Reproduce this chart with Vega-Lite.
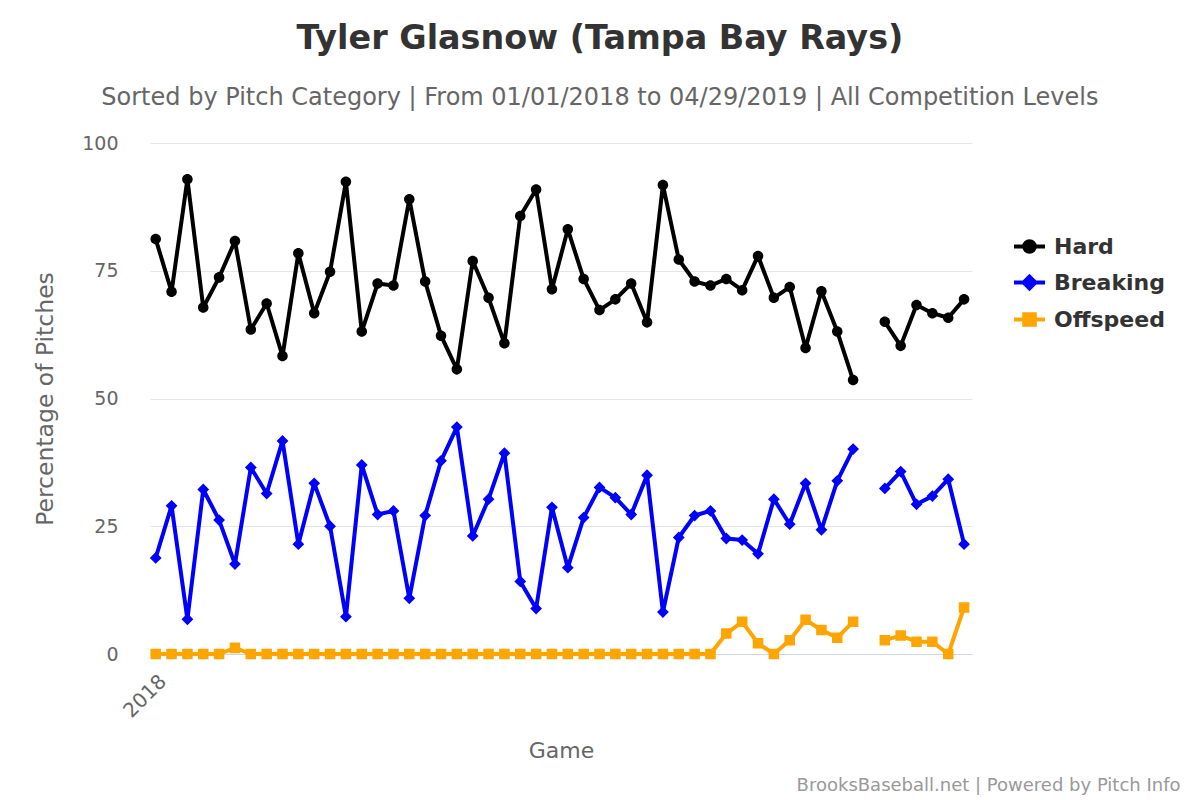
{
  "$schema": "https://vega.github.io/schema/vega-lite/v6.json",
  "width": 822,
  "height": 511,
  "autosize": "none",
  "padding": {"left": 150, "top": 143, "right": 228, "bottom": 146},
  "background": "white",
  "config": {"font": "DejaVu Sans", "view": {"stroke": null}},
  "title": {
    "text": "Tyler Glasnow (Tampa Bay Rays)",
    "subtitle": "Sorted by Pitch Category | From 01/01/2018 to 04/29/2019 | All Competition Levels",
    "fontSize": 33.4,
    "fontWeight": "bold",
    "color": "#333333",
    "subtitleFontSize": 24,
    "subtitleColor": "#666666",
    "subtitlePadding": 30,
    "offset": 23,
    "dx": -7,
    "anchor": "middle",
    "frame": "bounds"
  },
  "data": {
    "values": [
      {"g": 0, "type": "Hard", "pct": 81.2}, {"g": 1, "type": "Hard", "pct": 70.9}, {"g": 2, "type": "Hard", "pct": 92.9},
      {"g": 3, "type": "Hard", "pct": 67.8}, {"g": 4, "type": "Hard", "pct": 73.7}, {"g": 5, "type": "Hard", "pct": 80.8},
      {"g": 6, "type": "Hard", "pct": 63.5}, {"g": 7, "type": "Hard", "pct": 68.6}, {"g": 8, "type": "Hard", "pct": 58.3},
      {"g": 9, "type": "Hard", "pct": 78.4}, {"g": 10, "type": "Hard", "pct": 66.7}, {"g": 11, "type": "Hard", "pct": 74.8},
      {"g": 12, "type": "Hard", "pct": 92.4}, {"g": 13, "type": "Hard", "pct": 63.1}, {"g": 14, "type": "Hard", "pct": 72.5},
      {"g": 15, "type": "Hard", "pct": 72.1}, {"g": 16, "type": "Hard", "pct": 89.0}, {"g": 17, "type": "Hard", "pct": 72.9},
      {"g": 18, "type": "Hard", "pct": 62.3}, {"g": 19, "type": "Hard", "pct": 55.7}, {"g": 20, "type": "Hard", "pct": 76.9},
      {"g": 21, "type": "Hard", "pct": 69.7}, {"g": 22, "type": "Hard", "pct": 60.8}, {"g": 23, "type": "Hard", "pct": 85.7},
      {"g": 24, "type": "Hard", "pct": 90.9}, {"g": 25, "type": "Hard", "pct": 71.4}, {"g": 26, "type": "Hard", "pct": 83.1},
      {"g": 27, "type": "Hard", "pct": 73.4}, {"g": 28, "type": "Hard", "pct": 67.3}, {"g": 29, "type": "Hard", "pct": 69.4},
      {"g": 30, "type": "Hard", "pct": 72.5}, {"g": 31, "type": "Hard", "pct": 64.9}, {"g": 32, "type": "Hard", "pct": 91.8},
      {"g": 33, "type": "Hard", "pct": 77.2}, {"g": 34, "type": "Hard", "pct": 72.9}, {"g": 35, "type": "Hard", "pct": 72.1},
      {"g": 36, "type": "Hard", "pct": 73.4}, {"g": 37, "type": "Hard", "pct": 71.2}, {"g": 38, "type": "Hard", "pct": 77.9},
      {"g": 39, "type": "Hard", "pct": 69.7}, {"g": 40, "type": "Hard", "pct": 71.8}, {"g": 41, "type": "Hard", "pct": 59.9},
      {"g": 42, "type": "Hard", "pct": 71.0}, {"g": 43, "type": "Hard", "pct": 63.1}, {"g": 44, "type": "Hard", "pct": 53.6},
      {"g": 45, "type": "Hard", "pct": null}, {"g": 46, "type": "Hard", "pct": 65.0}, {"g": 47, "type": "Hard", "pct": 60.3},
      {"g": 48, "type": "Hard", "pct": 68.3}, {"g": 49, "type": "Hard", "pct": 66.7}, {"g": 50, "type": "Hard", "pct": 65.8},
      {"g": 51, "type": "Hard", "pct": 69.4},

      {"g": 0, "type": "Breaking", "pct": 18.8}, {"g": 1, "type": "Breaking", "pct": 29.0}, {"g": 2, "type": "Breaking", "pct": 6.8},
      {"g": 3, "type": "Breaking", "pct": 32.2}, {"g": 4, "type": "Breaking", "pct": 26.2}, {"g": 5, "type": "Breaking", "pct": 17.6},
      {"g": 6, "type": "Breaking", "pct": 36.5}, {"g": 7, "type": "Breaking", "pct": 31.4}, {"g": 8, "type": "Breaking", "pct": 41.7},
      {"g": 9, "type": "Breaking", "pct": 21.5}, {"g": 10, "type": "Breaking", "pct": 33.4}, {"g": 11, "type": "Breaking", "pct": 25.0},
      {"g": 12, "type": "Breaking", "pct": 7.3}, {"g": 13, "type": "Breaking", "pct": 37.0}, {"g": 14, "type": "Breaking", "pct": 27.3},
      {"g": 15, "type": "Breaking", "pct": 28.0}, {"g": 16, "type": "Breaking", "pct": 10.9}, {"g": 17, "type": "Breaking", "pct": 27.1},
      {"g": 18, "type": "Breaking", "pct": 37.8}, {"g": 19, "type": "Breaking", "pct": 44.4}, {"g": 20, "type": "Breaking", "pct": 23.1},
      {"g": 21, "type": "Breaking", "pct": 30.3}, {"g": 22, "type": "Breaking", "pct": 39.3}, {"g": 23, "type": "Breaking", "pct": 14.2},
      {"g": 24, "type": "Breaking", "pct": 8.9}, {"g": 25, "type": "Breaking", "pct": 28.7}, {"g": 26, "type": "Breaking", "pct": 16.9},
      {"g": 27, "type": "Breaking", "pct": 26.7}, {"g": 28, "type": "Breaking", "pct": 32.6}, {"g": 29, "type": "Breaking", "pct": 30.6},
      {"g": 30, "type": "Breaking", "pct": 27.3}, {"g": 31, "type": "Breaking", "pct": 35.0}, {"g": 32, "type": "Breaking", "pct": 8.2},
      {"g": 33, "type": "Breaking", "pct": 22.8}, {"g": 34, "type": "Breaking", "pct": 27.1}, {"g": 35, "type": "Breaking", "pct": 28.0},
      {"g": 36, "type": "Breaking", "pct": 22.6}, {"g": 37, "type": "Breaking", "pct": 22.3}, {"g": 38, "type": "Breaking", "pct": 19.6},
      {"g": 39, "type": "Breaking", "pct": 30.3}, {"g": 40, "type": "Breaking", "pct": 25.4}, {"g": 41, "type": "Breaking", "pct": 33.4},
      {"g": 42, "type": "Breaking", "pct": 24.3}, {"g": 43, "type": "Breaking", "pct": 33.9}, {"g": 44, "type": "Breaking", "pct": 40.1},
      {"g": 45, "type": "Breaking", "pct": null}, {"g": 46, "type": "Breaking", "pct": 32.4}, {"g": 47, "type": "Breaking", "pct": 35.7},
      {"g": 48, "type": "Breaking", "pct": 29.3}, {"g": 49, "type": "Breaking", "pct": 30.9}, {"g": 50, "type": "Breaking", "pct": 34.2},
      {"g": 51, "type": "Breaking", "pct": 21.5},

      {"g": 0, "type": "Offspeed", "pct": 0}, {"g": 1, "type": "Offspeed", "pct": 0}, {"g": 2, "type": "Offspeed", "pct": 0},
      {"g": 3, "type": "Offspeed", "pct": 0}, {"g": 4, "type": "Offspeed", "pct": 0}, {"g": 5, "type": "Offspeed", "pct": 1.2},
      {"g": 6, "type": "Offspeed", "pct": 0}, {"g": 7, "type": "Offspeed", "pct": 0}, {"g": 8, "type": "Offspeed", "pct": 0},
      {"g": 9, "type": "Offspeed", "pct": 0}, {"g": 10, "type": "Offspeed", "pct": 0}, {"g": 11, "type": "Offspeed", "pct": 0},
      {"g": 12, "type": "Offspeed", "pct": 0}, {"g": 13, "type": "Offspeed", "pct": 0}, {"g": 14, "type": "Offspeed", "pct": 0},
      {"g": 15, "type": "Offspeed", "pct": 0}, {"g": 16, "type": "Offspeed", "pct": 0}, {"g": 17, "type": "Offspeed", "pct": 0},
      {"g": 18, "type": "Offspeed", "pct": 0}, {"g": 19, "type": "Offspeed", "pct": 0}, {"g": 20, "type": "Offspeed", "pct": 0},
      {"g": 21, "type": "Offspeed", "pct": 0}, {"g": 22, "type": "Offspeed", "pct": 0}, {"g": 23, "type": "Offspeed", "pct": 0},
      {"g": 24, "type": "Offspeed", "pct": 0}, {"g": 25, "type": "Offspeed", "pct": 0}, {"g": 26, "type": "Offspeed", "pct": 0},
      {"g": 27, "type": "Offspeed", "pct": 0}, {"g": 28, "type": "Offspeed", "pct": 0}, {"g": 29, "type": "Offspeed", "pct": 0},
      {"g": 30, "type": "Offspeed", "pct": 0}, {"g": 31, "type": "Offspeed", "pct": 0}, {"g": 32, "type": "Offspeed", "pct": 0},
      {"g": 33, "type": "Offspeed", "pct": 0}, {"g": 34, "type": "Offspeed", "pct": 0}, {"g": 35, "type": "Offspeed", "pct": 0},
      {"g": 36, "type": "Offspeed", "pct": 4.0}, {"g": 37, "type": "Offspeed", "pct": 6.3}, {"g": 38, "type": "Offspeed", "pct": 2.1},
      {"g": 39, "type": "Offspeed", "pct": 0}, {"g": 40, "type": "Offspeed", "pct": 2.7}, {"g": 41, "type": "Offspeed", "pct": 6.7},
      {"g": 42, "type": "Offspeed", "pct": 4.7}, {"g": 43, "type": "Offspeed", "pct": 3.2}, {"g": 44, "type": "Offspeed", "pct": 6.3},
      {"g": 45, "type": "Offspeed", "pct": null}, {"g": 46, "type": "Offspeed", "pct": 2.7}, {"g": 47, "type": "Offspeed", "pct": 3.6},
      {"g": 48, "type": "Offspeed", "pct": 2.4}, {"g": 49, "type": "Offspeed", "pct": 2.4}, {"g": 50, "type": "Offspeed", "pct": 0},
      {"g": 51, "type": "Offspeed", "pct": 9.1}
    ]
  },
  "encoding": {
    "x": {
      "field": "g",
      "type": "quantitative",
      "scale": {"domain": [-0.36, 51.5], "nice": false, "zero": false},
      "axis": {
        "values": [0],
        "labelExpr": "'2018'",
        "labelAngle": -45,
        "labelFontSize": 20,
        "labelColor": "#666666",
        "labelPadding": 17,
        "labelDx": -7,
        "ticks": false,
        "grid": false,
        "domainColor": "#ccd6eb",
        "title": "Game",
        "titleFontSize": 22,
        "titleFontWeight": "normal",
        "titleColor": "#666666",
        "titlePadding": 19
      }
    },
    "y": {
      "field": "pct",
      "type": "quantitative",
      "scale": {"domain": [0, 100], "nice": false},
      "axis": {
        "values": [0, 25, 50, 75, 100],
        "title": "Percentage of Pitches",
        "titleFontSize": 23.5,
        "titleFontWeight": "normal",
        "titleColor": "#666666",
        "titlePadding": 24,
        "labelFontSize": 19,
        "labelColor": "#666666",
        "labelPadding": 32,
        "domain": false,
        "ticks": false,
        "gridColor": "#e6e6e6"
      }
    }
  },
  "layer": [
    {
      "mark": {"type": "line", "strokeWidth": 4, "strokeJoin": "round"},
      "encoding": {
        "color": {
          "field": "type",
          "type": "nominal",
          "scale": {"range": ["#0000ff", "#000000", "#ffa500"]},
          "legend": null
        }
      }
    },
    {
      "mark": {"type": "point", "filled": true, "opacity": 1, "size": 961, "strokeWidth": 0},
      "encoding": {
        "x": {
          "field": "g",
          "type": "quantitative",
          "scale": {"domain": [-0.36, 51.5], "nice": false, "zero": false},
          "axis": {
            "orient": "bottom",
            "domain": false,
            "ticks": false,
            "labels": false,
            "grid": false,
            "title": "BrooksBaseball.net | Powered by Pitch Info",
            "titleFontSize": 18,
            "titleFontWeight": "normal",
            "titleColor": "#999999",
            "titleAlign": "right",
            "titleBaseline": "alphabetic",
            "titleX": 1030,
            "titleY": 136
          }
        },
        "fill": {
          "field": "type",
          "type": "nominal",
          "scale": {"domain": ["Hard", "Breaking", "Offspeed"], "range": ["#000000", "#0000ff", "#ffa500"]},
          "legend": {
            "title": null,
            "orient": "none",
            "legendX": 862,
            "legendY": 86,
            "padding": 0,
            "symbolSize": 961,
            "symbolStrokeWidth": 4,
            "rowPadding": 5,
            "labelFontSize": 22,
            "labelFontWeight": "bold",
            "labelColor": "#333333",
            "labelOffset": 7
          }
        },
        "stroke": {
          "field": "type",
          "type": "nominal",
          "scale": {"domain": ["Hard", "Breaking", "Offspeed"], "range": ["#000000", "#0000ff", "#ffa500"]},
          "legend": {
            "title": null,
            "orient": "none",
            "legendX": 862,
            "legendY": 86,
            "padding": 0,
            "symbolSize": 961,
            "symbolStrokeWidth": 4,
            "rowPadding": 5,
            "labelFontSize": 22,
            "labelFontWeight": "bold",
            "labelColor": "#333333",
            "labelOffset": 7
          }
        },
        "shape": {
          "field": "type",
          "type": "nominal",
          "scale": {
            "domain": ["Hard", "Breaking", "Offspeed"],
            "range": [
              "M-1,0H1M0.34,0A0.34,0.34,0,1,1,-0.34,0A0.34,0.34,0,1,1,0.34,0Z",
              "M-1,0H1M0,-0.38L0.38,0L0,0.38L-0.38,0Z",
              "M-1,0H1M-0.34,-0.34H0.34V0.34H-0.34Z"
            ]
          },
          "legend": {
            "title": null,
            "orient": "none",
            "legendX": 862,
            "legendY": 86,
            "padding": 0,
            "symbolSize": 961,
            "symbolStrokeWidth": 4,
            "rowPadding": 5,
            "labelFontSize": 22,
            "labelFontWeight": "bold",
            "labelColor": "#333333",
            "labelOffset": 7
          }
        }
      }
    }
  ],
  "resolve": {"axis": {"x": "independent"}}
}
